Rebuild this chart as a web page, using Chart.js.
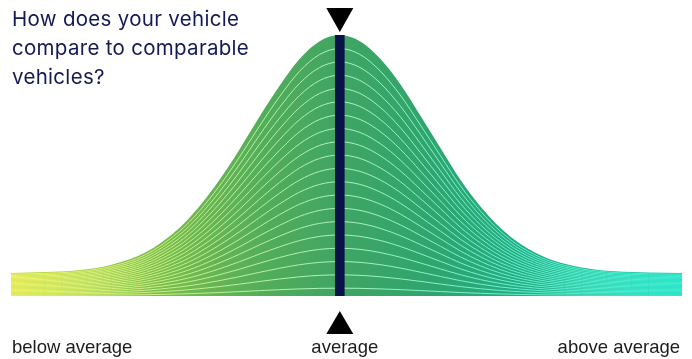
<!DOCTYPE html>
<html>
<head>
<meta charset="utf-8">
<script src="https://cdn.jsdelivr.net/npm/chart.js@4.4.1/dist/chart.umd.min.js"></script>
<style>
  body { margin: 0; background: #fff; }
  #wrap { position: relative; width: 692px; height: 359px; }
  #title {
    position: absolute; left: 12px; top: 4px;
    font-family: Inter, "Noto Sans", sans-serif; font-size: 20.5px; line-height: 29px;
    color: #141a55; letter-spacing: 0.3px;
  }
</style>
</head>
<body>
<div id="wrap">
  <canvas id="bellChart" width="692" height="359"></canvas>
  <div id="title">How does your vehicle<br>compare to comparable<br>vehicles?</div>
</div>
<script>
// position along the comparison axis (0 = lowest, 100 = highest)
const positions = [0, 5, 10, 15, 20, 25, 28, 31, 34, 37, 40, 43, 46, 49, 52, 55, 58, 61, 64, 67, 70, 73, 76, 80, 85, 90, 95, 100];
// height of the distribution at each position
const density = [23, 23.9, 25.8, 31.3, 43.4, 67.6, 89, 115.5, 146, 178.9, 210, 237, 254.8, 261, 254.8, 237.5, 212, 180.5, 148, 116, 89.3, 67.8, 51.7, 37.6, 28.6, 24.8, 23.5, 23];
// where the vehicle sits
const vehiclePosition = 49;
const axisLabels = ['below average', 'average', 'above average'];
// fractions of the curve where the white contour lines sit
const contourLevels = [0.03, 0.081, 0.132, 0.183, 0.234, 0.285, 0.336, 0.387, 0.438, 0.489, 0.54, 0.591, 0.642, 0.693, 0.744, 0.795, 0.846, 0.897, 0.948];

function horizontalGradient(chart, stops) {
    const area = chart.chartArea;
    if (!area) return null;
    const g = chart.ctx.createLinearGradient(area.left, 0, area.right, 0);
    stops.forEach(s => g.addColorStop(s[0], s[1]));
    return g;
}

const fillStops = [[0, '#c4dc36'], [0.22, '#7cbd4c'], [0.38, '#52ad5a'], [0.49, '#40a563'], [0.62, '#2fa56e'], [0.78, '#22ae86'], [1, '#17cfae']];
const lineStops = [[0, '#eef26a'], [0.25, '#c2ee8c'], [0.49, '#abf0c2'], [0.75, '#68eecd'], [1, '#3aeed4']];

const curve = positions.map((p, i) => ({ x: p, y: density[i] }));

const datasets = [{
    type: 'line',
    data: curve,
    fill: 'origin',
    borderWidth: 0,
    pointRadius: 0,
    cubicInterpolationMode: 'monotone',
    backgroundColor: ctx => horizontalGradient(ctx.chart, fillStops) || '#40a563',
    order: 3
}];

contourLevels.forEach(level => {
    datasets.push({
        type: 'line',
        data: curve.map(pt => ({ x: pt.x, y: pt.y * level })),
        fill: false,
        borderWidth: 1,
        pointRadius: 0,
        cubicInterpolationMode: 'monotone',
        borderColor: ctx => horizontalGradient(ctx.chart, lineStops) || '#ffffff',
        order: 2
    });
});

datasets.push({
    type: 'bar',
    data: [{ x: vehiclePosition, y: Math.max(...density) }],
    backgroundColor: '#0b1247',
    barThickness: 9,
    order: 0
});

// triangles + labels under the axis
const markerPlugin = {
    id: 'markers',
    afterDraw(chart) {
        const ctx = chart.ctx;
        const xs = chart.scales.x;
        const cx = xs.getPixelForValue(vehiclePosition);

        ctx.save();
        ctx.fillStyle = '#000';
        ctx.beginPath();
        ctx.moveTo(cx - 13.5, 8);
        ctx.lineTo(cx + 13.5, 8);
        ctx.lineTo(cx, 32);
        ctx.closePath();
        ctx.fill();

        ctx.beginPath();
        ctx.moveTo(cx - 13.5, 334);
        ctx.lineTo(cx + 13.5, 334);
        ctx.lineTo(cx, 311);
        ctx.closePath();
        ctx.fill();

        ctx.font = '18.5px "Liberation Sans", Arial, sans-serif';
        ctx.fillStyle = '#1c1c1c';
        ctx.textBaseline = 'alphabetic';
        ctx.textAlign = 'left';
        ctx.fillText(axisLabels[0], xs.getPixelForValue(0) + 1, 353);
        ctx.textAlign = 'center';
        ctx.fillText(axisLabels[1], cx + 5, 353);
        ctx.textAlign = 'right';
        ctx.fillText(axisLabels[2], xs.getPixelForValue(100) - 2, 353);
        ctx.restore();
    }
};

new Chart(document.getElementById('bellChart'), {
    data: { datasets: datasets },
    options: {
        responsive: false,
        animation: false,
        layout: { padding: { left: 11, right: 10, top: 35, bottom: 63 } },
        plugins: { legend: { display: false }, tooltip: { enabled: false } },
        scales: {
            x: { type: 'linear', min: 0, max: 100, offset: false, display: false },
            y: { min: 0, max: 261, display: false }
        }
    },
    plugins: [markerPlugin]
});
</script>
</body>
</html>
